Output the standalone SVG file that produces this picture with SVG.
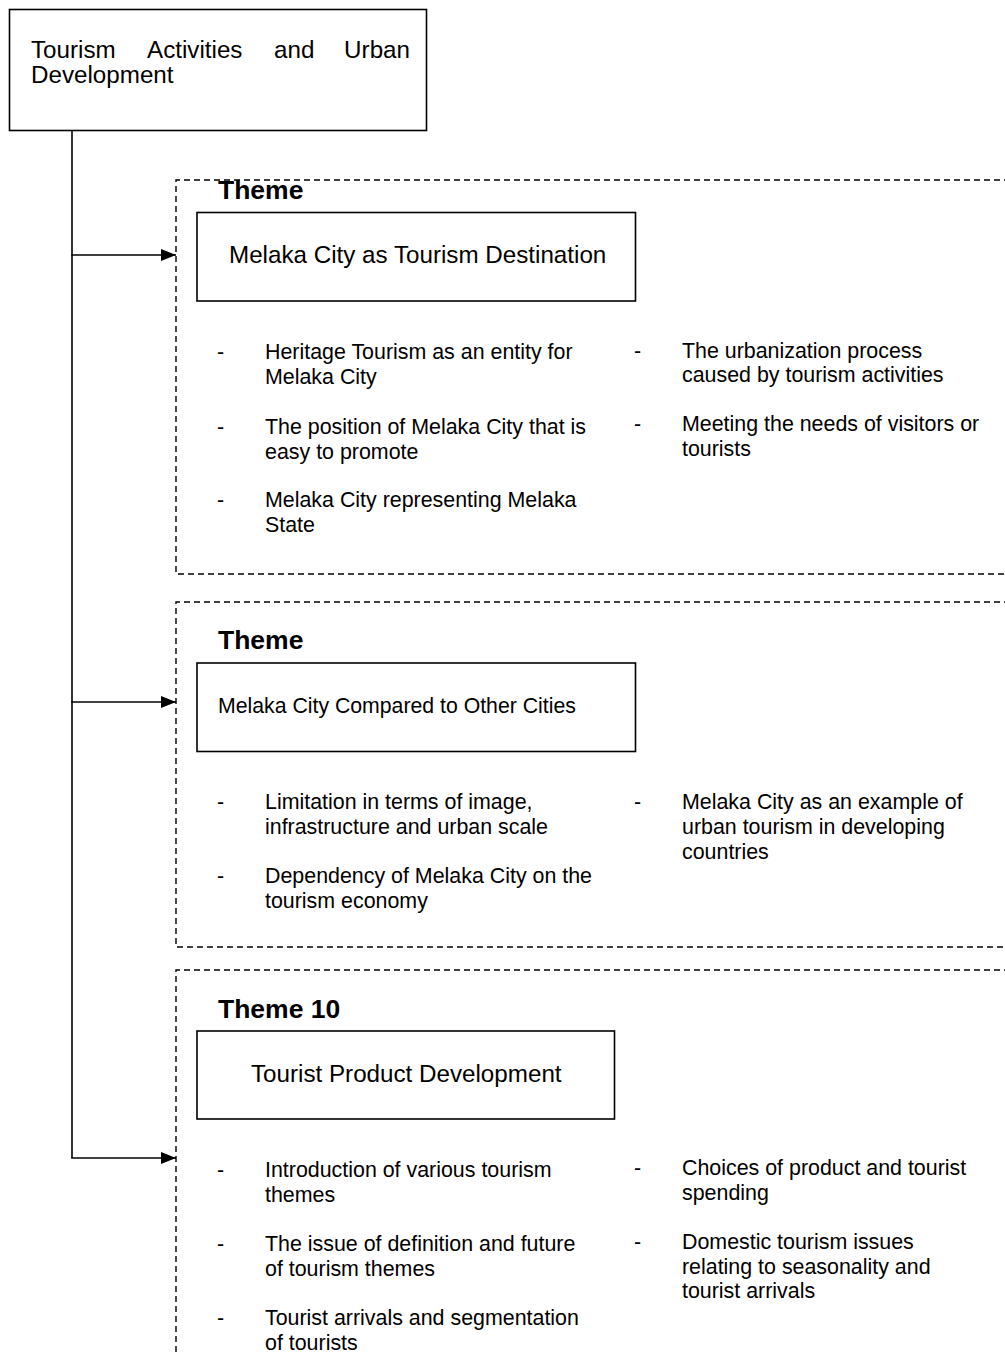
<svg xmlns="http://www.w3.org/2000/svg" width="1005" height="1355" viewBox="0 0 1005 1355">
<style>
.box{fill:#fff;stroke:#000;stroke-width:1.6}
.dash{fill:none;stroke:#000;stroke-width:1.4;stroke-dasharray:6 4}
.ln{fill:none;stroke:#000;stroke-width:1.6}
text{font-family:"Liberation Sans",Arial,sans-serif;fill:#000}
.t24{font-size:24.2px}
.t21{font-size:21.25px}
.b{font-size:21.4px}
.th{font-size:26.5px;font-weight:bold}
</style>
<defs>
<marker id="ah" markerWidth="15" markerHeight="12" refX="15" refY="6" orient="auto" markerUnits="userSpaceOnUse">
<path d="M0,0 L15,6 L0,12 Z" fill="#000"/>
</marker>
</defs>
<rect width="1005" height="1355" fill="#fff"/>

<g id="root">
<rect class="box" x="9.5" y="9.5" width="417" height="121"/>
<text class="t24" x="31" y="58">Tourism</text>
<text class="t24" x="147" y="58">Activities</text>
<text class="t24" x="274" y="58">and</text>
<text class="t24" x="410" y="58" text-anchor="end">Urban</text>
<text class="t24" x="31" y="83">Development</text>
</g>

<g id="connectors">
<line class="ln" x1="72" y1="130.5" x2="72" y2="1158"/>
<line class="ln" x1="71.2" y1="255" x2="176" y2="255" marker-end="url(#ah)"/>
<line class="ln" x1="71.2" y1="702" x2="176" y2="702" marker-end="url(#ah)"/>
<line class="ln" x1="71.2" y1="1158" x2="176" y2="1158" marker-end="url(#ah)"/>
</g>

<g id="theme8">
<path class="dash" d="M1010,180 H176 V574 H1010"/>
<text class="th" x="218" y="199">Theme</text>
<rect class="box" x="197" y="212.5" width="438.5" height="88.5"/>
<text class="t24" x="229" y="263">Melaka City as Tourism Destination</text>
<text class="b" x="217" y="359">-</text>
<text class="b" x="265" y="359">Heritage Tourism as an entity for</text>
<text class="b" x="265" y="384">Melaka City</text>
<text class="b" x="217" y="434">-</text>
<text class="b" x="265" y="434">The position of Melaka City that is</text>
<text class="b" x="265" y="459">easy to promote</text>
<text class="b" x="217" y="507">-</text>
<text class="b" x="265" y="507">Melaka City representing Melaka</text>
<text class="b" x="265" y="532">State</text>
<text class="b" x="634" y="358">-</text>
<text class="b" x="682" y="358">The urbanization process</text>
<text class="b" x="682" y="382">caused by tourism activities</text>
<text class="b" x="634" y="431">-</text>
<text class="b" x="682" y="431">Meeting the needs of visitors or</text>
<text class="b" x="682" y="456">tourists</text>
</g>

<g id="theme9">
<path class="dash" d="M1010,602 H176 V947 H1010"/>
<text class="th" x="218" y="649">Theme</text>
<rect class="box" x="197" y="663" width="438.5" height="88.5"/>
<text class="t21" x="218" y="713">Melaka City Compared to Other Cities</text>
<text class="b" x="217" y="809">-</text>
<text class="b" x="265" y="809">Limitation in terms of image,</text>
<text class="b" x="265" y="834">infrastructure and urban scale</text>
<text class="b" x="217" y="883">-</text>
<text class="b" x="265" y="883">Dependency of Melaka City on the</text>
<text class="b" x="265" y="908">tourism economy</text>
<text class="b" x="634" y="809">-</text>
<text class="b" x="682" y="809">Melaka City as an example of</text>
<text class="b" x="682" y="834">urban tourism in developing</text>
<text class="b" x="682" y="859">countries</text>
</g>

<g id="theme10">
<path class="dash" d="M1010,970 H176 V1360"/>
<text class="th" x="218" y="1018">Theme 10</text>
<rect class="box" x="197" y="1031" width="417.5" height="88"/>
<text class="t24" x="251" y="1082">Tourist Product Development</text>
<text class="b" x="217" y="1177">-</text>
<text class="b" x="265" y="1177">Introduction of various tourism</text>
<text class="b" x="265" y="1202">themes</text>
<text class="b" x="217" y="1251">-</text>
<text class="b" x="265" y="1251">The issue of definition and future</text>
<text class="b" x="265" y="1276">of tourism themes</text>
<text class="b" x="217" y="1325">-</text>
<text class="b" x="265" y="1325">Tourist arrivals and segmentation</text>
<text class="b" x="265" y="1350">of tourists</text>
<text class="b" x="634" y="1175">-</text>
<text class="b" x="682" y="1175">Choices of product and tourist</text>
<text class="b" x="682" y="1200">spending</text>
<text class="b" x="634" y="1249">-</text>
<text class="b" x="682" y="1249">Domestic tourism issues</text>
<text class="b" x="682" y="1274">relating to seasonality and</text>
<text class="b" x="682" y="1298">tourist arrivals</text>
</g>
</svg>
